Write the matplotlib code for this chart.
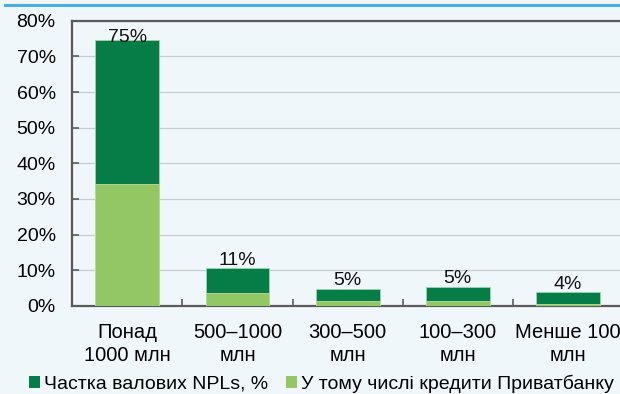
import matplotlib.pyplot as plt
from matplotlib.patches import Patch
from matplotlib.ticker import FixedLocator, PercentFormatter

plt.rcParams["font.family"] = ["Liberation Sans", "DejaVu Sans"]

# Loan size groups and NPL shares, %
categories = ["Понад\n1000 млн", "500–1000\nмлн", "300–500\nмлн", "100–300\nмлн", "Менше 100\nмлн"]
npl_share = [74.7, 10.6, 4.85, 5.4, 3.9]
privat_share = [34.2, 3.6, 1.5, 1.4, 0.45]
series_names = ["Частка валових NPLs, %", "У тому числі кредити Приватбанку"]

DARK = "#067D46"
LIGHT = "#93C764"
BG = "#F0F7FB"
AXIS = "#5A5A5A"
FS = 14

fig = plt.figure(figsize=(6.2, 3.94), dpi=100, facecolor=BG)
ax = fig.add_axes([0.1166, 0.2234, 0.888, 0.7241], facecolor=BG)

x = range(len(categories))
ax.bar(x, npl_share, width=0.58, color=DARK, edgecolor="#9FD3AE", linewidth=0.6, zorder=2)
ax.bar(x, privat_share, width=0.58, color=LIGHT, edgecolor="#B8DFA0", linewidth=0.6, zorder=3)

ymax = 80
for xi, v in zip(x, npl_share):
    # keep the label inside the plot area for the tallest bar
    y = min(v - 0.2, ymax - 7.1)
    ax.text(xi, y, f"{v:.0f}%", ha="center", va="bottom", fontsize=FS, color="#111111", zorder=4)

ax.set_xlim(-0.5, len(categories) - 0.5)
ax.set_ylim(0, ymax)
ax.yaxis.set_major_locator(FixedLocator(range(0, ymax + 1, 10)))
ax.yaxis.set_major_formatter(PercentFormatter(decimals=0))
ax.grid(axis="y", color="#C8CDD1", linewidth=0.9, zorder=0)
ax.set_axisbelow(True)

ax.set_xticks(list(x))
ax.set_xticklabels(categories, fontsize=14.5, linespacing=1.32)
ax.xaxis.set_minor_locator(FixedLocator([i + 0.5 for i in x]))
ax.tick_params(axis="x", which="major", length=0, pad=12)
ax.tick_params(axis="x", which="minor", direction="in", length=5, width=1.2, color=AXIS)
ax.tick_params(axis="y", direction="in", length=5, width=1.2, color=AXIS, labelsize=FS, pad=12)

for side in ("left", "bottom", "top"):
    ax.spines[side].set_color(AXIS)
    ax.spines[side].set_linewidth(1.6)
ax.spines["right"].set_visible(False)

# blue rule above the chart
fig.add_artist(plt.Line2D([0.008, 1.0], [0.9865, 0.9865], transform=fig.transFigure,
                          color="#4AAEE5", linewidth=2.2))

handles = [Patch(facecolor=DARK), Patch(facecolor=LIGHT)]
fig.legend(handles, series_names, loc="center", bbox_to_anchor=(0.518, 0.027), ncol=2,
           frameon=False, fontsize=FS, handlelength=0.57, handleheight=0.57,
           handletextpad=0.2, columnspacing=0.9, borderpad=0)

fig.savefig("out.png", dpi=100, facecolor=BG)
